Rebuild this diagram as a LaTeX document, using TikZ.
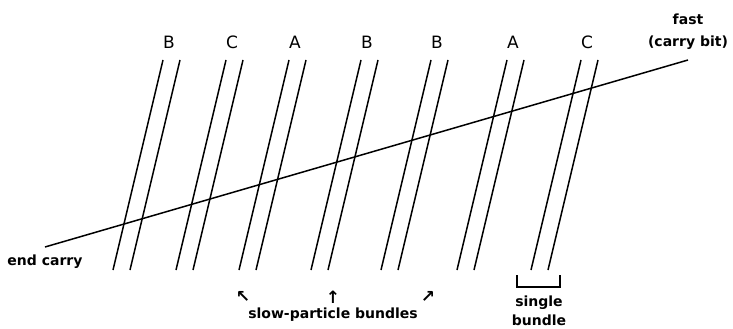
\documentclass[tikz,border=0pt]{standalone}
\usepackage{fontspec}
\setmainfont{DejaVu Sans}
\begin{document}
\begin{tikzpicture}[x=1pt,y=-1pt,
  particle/.style={line width=1.5pt},
  carry/.style={line width=1.5pt},
  lbl/.style={font=\bfseries\fontsize{14}{15}\selectfont, inner sep=0pt},
  letterlbl/.style={font=\fontsize{17}{18}\selectfont, inner sep=0pt},
  arr/.style={font=\bfseries\fontsize{17}{18}\selectfont, inner sep=0pt}]
\useasboundingbox (0,0) rectangle (733,329);
% slow particle bundles: bottom x at y=270, top = bottom+50 at y=60
\foreach \b/\l in {113/B,176/C,239/A,311/B,381/B,457/A,531/C}{
  \draw[particle] (\b,270) -- (\b+50,60);
  \draw[particle] (\b+17,270) -- (\b+67,60);
  \node[letterlbl] at (\b+56,42) {\l};
}
% fast carry bit
\coordinate (fs) at (45,247);
\coordinate (fe) at (688,60);
\draw[carry] (fs) -- (fe);
\node[lbl] (fast) at (688,19) {fast};
\node[lbl] (cb) at (688,43) {(carry bit)};
\node[lbl] (ec) at (45,262) {end carry};
% arrows and label
\node[arr] (a1) at (243,297) {↖};
\node[arr] (a2) at (333,297) {↑};
\node[arr] (a3) at (428,297) {↗};
\node[lbl] (spb) at (333,315) {slow-particle bundles};
% single bundle bracket
\draw[line width=1.3pt] (517,275) -- (517,287) -- (560,287) -- (560,275);
\node[lbl] (sg) at (539,303) {single};
\node[lbl] (bd) at (539,320) {bundle};
\end{tikzpicture}
\end{document}
